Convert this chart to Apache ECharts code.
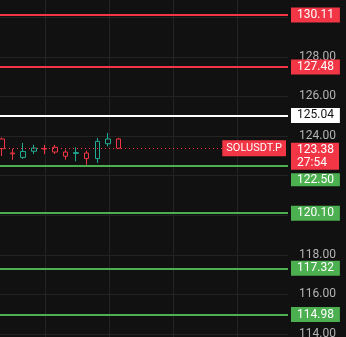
<!DOCTYPE html>
<html><head><meta charset="utf-8">
<script src="https://cdn.jsdelivr.net/npm/echarts@6/dist/echarts.min.js"></script>
<style>html,body{margin:0;padding:0;background:#111111;}#c{width:346px;height:337px;}</style>
</head><body><div id="c"></div>
<script>
// ---- data ----
const candleTimes = ['04:00','04:30','05:00','05:30','06:00','06:30','07:00','07:30','08:00','08:30','09:00','09:30'];
const opens  = [123.85, 123.14, 122.92, 123.23, 123.37, 123.43, 123.19, 123.12, 123.14, 122.86, 123.61, 123.85];
const closes = [123.36, 123.10, 123.22, 123.39, 123.34, 123.19, 122.98, 123.16, 122.86, 123.73, 123.85, 123.38];
const lows   = [122.99, 122.80, 122.84, 123.09, 123.09, 123.09, 122.80, 122.72, 122.55, 122.64, 123.48, 123.38];
const highs  = [123.92, 123.36, 123.65, 123.56, 123.55, 123.55, 123.31, 123.43, 123.26, 123.90, 124.15, 123.90];
const futureSlots = 16;
const resistanceLevels = [130.11, 127.48];
const pivotLevels = [125.04];
const supportLevels = [122.50, 120.10, 117.32, 114.98];
const currentPrice = 123.38;
const countdown = '27:54';
const symbolName = 'SOLUSDT.P';
const priceAxisMin = 112, priceAxisMax = 132, priceAxisStep = 2;

// ---- styles ----
const RED = '#f23645', GREEN = '#4caf50', UP = '#22ab94', BG = '#111111';
const FONT = 'Roboto, sans-serif';

const categories = candleTimes.concat(Array.from({length: futureSlots}, (_, i) => 'next' + (i + 1)));
const candleData = opens.map((o, i) => [o, closes[i], lows[i], highs[i]]);

function isPushed(v) { return Math.abs(v - currentPrice) < 1.2 && v < currentPrice; }

function levelLine(v, color, textColor) {
  const txt = v.toFixed(2);
  const label = isPushed(v) ? {
    show: true, position: 'end', distance: 3,
    formatter: '{g| }\n{v|' + txt + '}',
    rich: {
      g: {lineHeight: 28, fontSize: 12},
      v: {backgroundColor: color, color: textColor, padding: [1, 6, 0, 6], lineHeight: 13, fontSize: 12, fontFamily: FONT}
    }
  } : {
    show: true, position: 'end', distance: 3, formatter: txt,
    color: textColor, backgroundColor: color, padding: [1, 6, 1, 6],
    fontSize: 12, lineHeight: 13, fontFamily: FONT
  };
  return {yAxis: v, lineStyle: {color: color, width: 2, type: 'solid'}, label: label};
}

const allLevels = resistanceLevels.concat(pivotLevels, supportLevels);
// price-scale labels hidden where a level tag sits on top of them
function tickHidden(t) {
  return allLevels.some(v => Math.abs((isPushed(v) ? v - 0.7 : v) - t) < 0.4);
}

const markData = []
  .concat(resistanceLevels.map(v => levelLine(v, RED, '#ffffff')))
  .concat(pivotLevels.map(v => levelLine(v, '#ffffff', '#131313')))
  .concat(supportLevels.map(v => levelLine(v, GREEN, '#ffffff')));

markData.push({
  yAxis: currentPrice,
  lineStyle: {color: RED, width: 1, type: [1, 3]},
  label: {show: true, position: 'insideEnd', distance: 2, formatter: symbolName,
    color: '#ffffff', backgroundColor: RED, padding: [2, 4, 1, 4], fontSize: 11, lineHeight: 13, fontFamily: FONT}
});
markData.push({
  yAxis: currentPrice,
  lineStyle: {color: 'rgba(0,0,0,0)', width: 1, type: 'solid'},
  label: {show: true, position: 'end', distance: 3,
    formatter: '{g| }\n{a|' + currentPrice.toFixed(2) + '}\n{b|' + countdown + '}',
    rich: {
      g: {lineHeight: 16, fontSize: 12},
      a: {backgroundColor: RED, color: '#ffffff', width: 36, padding: [1, 6, 1, 6], lineHeight: 13, fontSize: 12, fontFamily: FONT},
      b: {backgroundColor: RED, color: '#ffffff', width: 36, padding: [1, 6, 1, 6], lineHeight: 13, fontSize: 12, fontFamily: FONT}
    }
  }
});

const gridTop = -22.4, gridHeight = 396;

const chart = echarts.init(document.getElementById('c'), null, {renderer: 'canvas'});
chart.setOption({
  animation: false,
  backgroundColor: BG,
  grid: [
    {left: 2, right: 58, top: gridTop, height: gridHeight, containLabel: false, outerBoundsMode: 'none'},
    {left: -19, right: 58, top: gridTop, height: gridHeight, containLabel: false, outerBoundsMode: 'none'}
  ],
  xAxis: [
    {type: 'category', gridIndex: 0, data: categories, boundaryGap: false, show: false},
    {type: 'value', gridIndex: 1, min: 0, max: 307, interval: 64,
      axisLine: {show: false}, axisTick: {show: false}, axisLabel: {show: false},
      splitLine: {show: true, showMinLine: false, showMaxLine: false, lineStyle: {color: '#232323', width: 1}}}
  ],
  yAxis: [
    {type: 'value', gridIndex: 0, min: priceAxisMin, max: priceAxisMax, interval: priceAxisStep, show: false},
    {type: 'value', gridIndex: 1, position: 'right', min: priceAxisMin, max: priceAxisMax, interval: priceAxisStep,
      axisLine: {show: false}, axisTick: {show: false},
      axisLabel: {show: true, margin: 11, color: '#b4b4b4', fontSize: 12, fontFamily: FONT,
        formatter: v => tickHidden(v) ? '' : v.toFixed(2)},
      splitLine: {show: true, lineStyle: {color: '#232323', width: 1}}}
  ],
  series: [
    {
      type: 'candlestick', xAxisIndex: 0, yAxisIndex: 0, data: candleData,
      barWidth: 5, clip: false, z: 3,
      itemStyle: {color: BG, color0: BG, borderColor: UP, borderColor0: RED, borderWidth: 1}
    },
    {
      type: 'line', xAxisIndex: 1, yAxisIndex: 1, data: [], z: 5,
      markLine: {silent: true, symbol: ['none', 'none'], animation: false, data: markData}
    }
  ]
});
</script>
</body></html>
